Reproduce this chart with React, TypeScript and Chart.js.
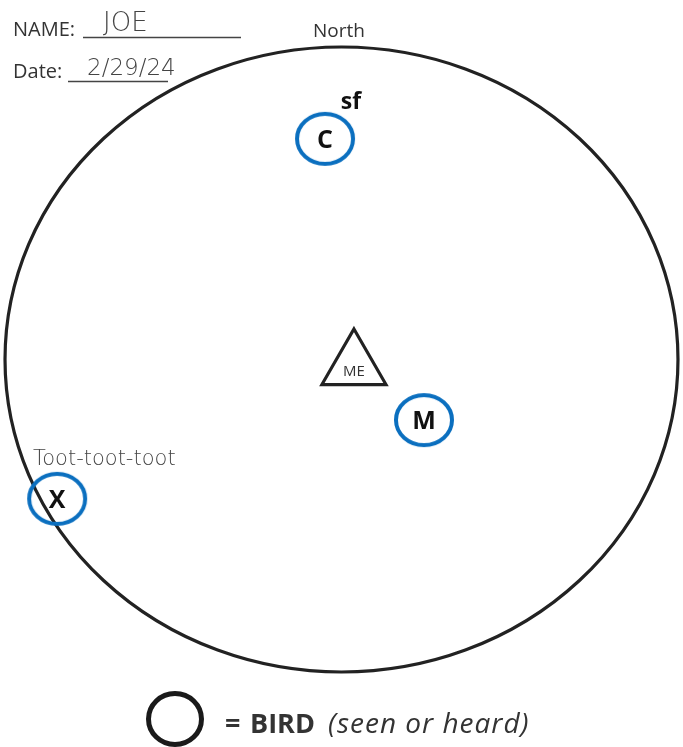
import React, { useEffect, useRef } from 'react';
import { Chart, registerables } from 'chart.js';

Chart.register(...registerables);

// ---- data (field units: survey circle radius = 100, observer near the origin) ----
const SURVEY_RADIUS = 100;
const birdCodes = ['C', 'M', 'X'];
const birdX = [-4.9, 24.5, -84.5];
const birdY = [70.6, -19.4, -44.6];
const observerLabel = ['ME'];
const observerX = [3.7];
const observerY = [-2.1];
const noteText = ['sf', 'Toot-toot-toot'];
const noteX = [2.8, -91.7];
const noteY = [82.2, -33.8];
const sheetName = 'JOE';
const sheetDate = '2/29/24';
const directionLabel = 'North';
const legendLabel = 'BIRD';
const legendNote = '(seen or heard)';

const X_MIN = -101.49;
const X_MAX = 101.49;
const Y_MIN = -124.0;
const Y_MAX = 115.04;

const BLUE = '#0b6fbf';
const INK = '#222222';
const TEXT = '#333333';
const SANS = '"Open Sans", "Noto Sans", sans-serif';
const HAND = '"DejaVu Sans", sans-serif';

function ellipseMarker(rx: number, ry: number, lw: number, color: string) {
  const c = document.createElement('canvas');
  c.width = Math.ceil(rx * 2 + lw + 2);
  c.height = Math.ceil(ry * 2 + lw + 2);
  const ctx = c.getContext('2d')!;
  ctx.strokeStyle = color;
  ctx.lineWidth = lw;
  ctx.beginPath();
  ctx.ellipse(c.width / 2, c.height / 2, rx, ry, 0, 0, Math.PI * 2);
  ctx.stroke();
  return c;
}

const sheetPlugin = {
  id: 'sheet',
  beforeDatasetsDraw(chart: any) {
    const { ctx, scales } = chart;
    const cx = scales.x.getPixelForValue(0);
    const cy = scales.y.getPixelForValue(0);
    const rx = scales.x.getPixelForValue(SURVEY_RADIUS) - cx;
    const ry = cy - scales.y.getPixelForValue(SURVEY_RADIUS);
    ctx.save();
    ctx.strokeStyle = INK;
    ctx.lineWidth = 3.2;
    ctx.beginPath();
    ctx.ellipse(cx, cy, rx, ry, 0, 0, Math.PI * 2);
    ctx.stroke();
    ctx.restore();
  },
  afterDatasetsDraw(chart: any) {
    const { ctx, scales } = chart;
    ctx.save();
    // bird codes inside markers
    const birdMeta = chart.getDatasetMeta(0);
    ctx.fillStyle = '#111';
    ctx.font = `bold 25px ${SANS}`;
    ctx.textAlign = 'center';
    ctx.textBaseline = 'alphabetic';
    birdMeta.data.forEach((el: any, i: number) => {
      ctx.fillText(birdCodes[i], el.x, el.y + 9);
    });
    // observer label
    const obsMeta = chart.getDatasetMeta(1);
    ctx.fillStyle = TEXT;
    ctx.font = `15px ${SANS}`;
    obsMeta.data.forEach((el: any, i: number) => {
      ctx.fillText(observerLabel[i], el.x, el.y + 10);
    });
    // notes
    ctx.fillStyle = '#111';
    ctx.font = `bold 23px ${SANS}`;
    ctx.textAlign = 'center';
    ctx.textBaseline = 'middle';
    ctx.fillText(noteText[0], scales.x.getPixelForValue(noteX[0]), scales.y.getPixelForValue(noteY[0]));
    ctx.fillStyle = '#444';
    ctx.font = `200 21px ${HAND}`;
    ctx.textAlign = 'left';
    ctx.textBaseline = 'alphabetic';
    ctx.fillText(noteText[1], scales.x.getPixelForValue(noteX[1]), scales.y.getPixelForValue(noteY[1]), 144);

    // header
    ctx.fillStyle = TEXT;
    ctx.font = `20px ${SANS}`;
    ctx.fillText('NAME:', 13, 36);
    ctx.fillText('Date:', 13, 78);
    ctx.font = `19px ${SANS}`;
    ctx.fillText(directionLabel, 313, 37);
    ctx.strokeStyle = '#444';
    ctx.lineWidth = 1.5;
    ctx.beginPath();
    ctx.moveTo(83, 37.5);
    ctx.lineTo(241, 37.5);
    ctx.moveTo(68, 81.5);
    ctx.lineTo(168, 81.5);
    ctx.stroke();
    ctx.fillStyle = '#444';
    ctx.font = `200 26px ${HAND}`;
    ctx.fillText(sheetName, 103, 31, 50);
    ctx.font = `200 23px ${HAND}`;
    ctx.fillText(sheetDate, 87, 75, 96);

    // legend
    ctx.strokeStyle = '#1a1a1a';
    ctx.lineWidth = 5;
    ctx.beginPath();
    ctx.ellipse(175, 719, 26.5, 25.5, 0, 0, Math.PI * 2);
    ctx.stroke();
    ctx.fillStyle = TEXT;
    ctx.font = `bold 27px ${SANS}`;
    ctx.fillText('=', 225, 733);
    ctx.fillText(legendLabel, 250, 733, 66);
    ctx.font = `italic 28px ${SANS}`;
    (ctx as any).letterSpacing = '1px';
    ctx.fillText(legendNote, 328, 733, 206);
    (ctx as any).letterSpacing = '0px';
    ctx.restore();
  },
};

export default function App() {
  const ref = useRef<HTMLCanvasElement | null>(null);
  useEffect(() => {
    if (!ref.current) return;
    const birdMarker = ellipseMarker(28, 25, 4, BLUE);
    const chart = new Chart(ref.current, {
      type: 'scatter',
      data: {
        datasets: [
          {
            label: 'Birds',
            data: birdX.map((x, i) => ({ x, y: birdY[i] })),
            pointStyle: birdMarker as any,
            pointRadius: 28,
            clip: false as any,
          },
          {
            label: 'Observer',
            data: observerX.map((x, i) => ({ x, y: observerY[i] })),
            pointStyle: 'triangle',
            pointRadius: 37,
            borderWidth: 3.2,
            borderColor: INK,
            backgroundColor: 'rgba(0,0,0,0)',
            clip: false as any,
          },
        ],
      },
      options: {
        responsive: false,
        animation: false,
        layout: { padding: 0, autoPadding: false },
        plugins: { legend: { display: false }, tooltip: { enabled: false } },
        events: [],
        scales: {
          x: { type: 'linear', min: X_MIN, max: X_MAX, display: false },
          y: { type: 'linear', min: Y_MIN, max: Y_MAX, display: false },
        },
      },
      plugins: [sheetPlugin],
    });
    return () => chart.destroy();
  }, []);
  return (
    <div style={{ position: 'fixed', left: 0, top: 0, width: 683, height: 747, background: '#fff' }}>
      <canvas ref={ref} width={683} height={747} style={{ display: 'block' }} />
    </div>
  );
}
